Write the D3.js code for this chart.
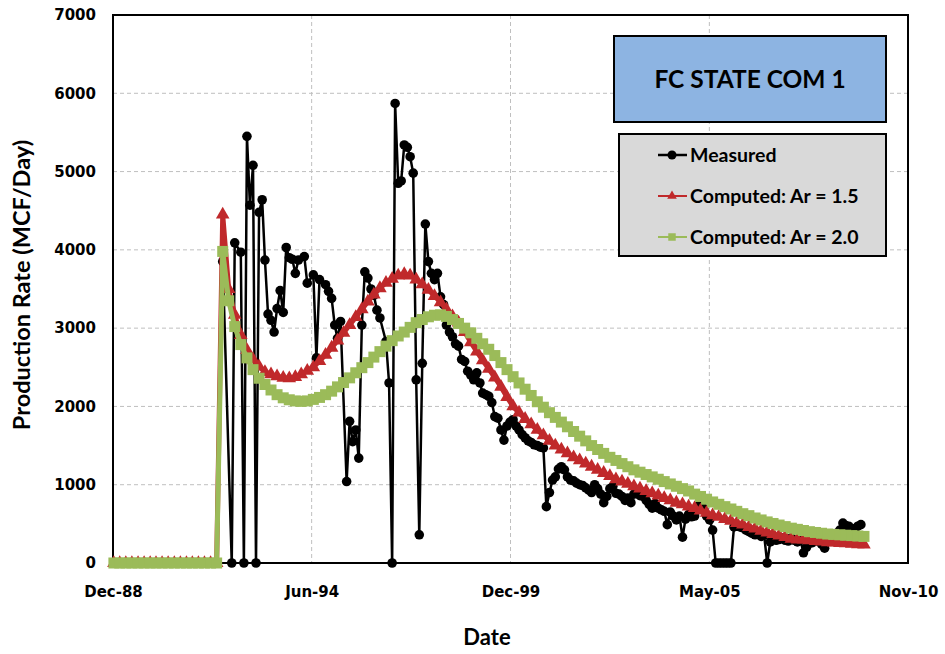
<!DOCTYPE html>
<html>
<head>
<meta charset="utf-8">
<script src="https://cdn.jsdelivr.net/npm/d3@7"></script>
<style>
  body { margin: 0; background: #fff; }
  svg { display: block; }
</style>
</head>
<body>
<script>
// x axis: Excel date axis, 2000-day major unit
var tickDates = ['1988-12-23', '1994-06-14', '1999-12-06', '2005-05-29', '2010-11-18'];
var tickLabels = ['Dec-88', 'Jun-94', 'Dec-99', 'May-05', 'Nov-10'];
var rateTicks = [0, 1000, 2000, 3000, 4000, 5000, 6000, 7000];

var seriesNames = ['Measured', 'Computed: Ar = 1.5', 'Computed: Ar = 2.0'];
var chartTitle = 'FC STATE COM 1';

// measured rate, one value per month from Jan-92 (null = no point)
var measuredStart = '1992-01-01';
var measuredRate = [
  3850, null, null, 0, 4090, null, 3970, 0, 5450, 4570, 5080, 0,
  4480, 4640, 3870, 3180, 3100, 2950, 3250, 3480, 3200, 4030, 3900, 3880,
  3700, 3870, null, 3915, 3575, null, 3680, 2620, 3620, null, 3555, 3470,
  3380, 3040, 2870, 3085, null, 1040, 1810, 1550, 1700, 1340, 3040, 3720,
  3640, 3500, 3420, 3230, 3130, null, 2830, 2300, 0, 5870, 4850, 4880,
  5340, 5310, 5190, 4980, 2340, 360, 2550, 4330, 3850, 3700, 3620, 3700,
  3400, 3300, 3040, 2950, 2890, 2800, 2770, 2600, 2575, 2450, 2400, 2340,
  2430, 2300, 2170, 2150, 2130, 2050, 1870, 1850, 1700, 1570, 1750, 1800,
  1830, 1750, 1700, 1640, 1600, 1560, 1540, 1510, 1500, 1480, 1470, 720,
  900, 1060, 1100, 1200, 1230, 1190, 1100, 1060, 1050, 1020, 1000, 990,
  960, 930, 900, 1000, 950, 880, 770, 850, 950, 980, 890, 880,
  850, 800, 830, 770, 880, 900, 860, 850, 800, 750, 700, 760,
  700, 680, 660, 490, 650, 600, 550, 600, 330, 560, 620, 590,
  600, 720, 760, 700, 600, 550, 420, 0, 0, 0, 0, 0,
  0, 460, 480, 460, 450, 420, 400, 380, 360, 380, 340, 360,
  0, 270, 330, 290, 300, 320, 290, 280, 320, 290, 270, 300,
  130, 200, 250, 260, 280, 300, 240, 190, 330, 350, 360, 380,
  420, 510, 480, 470, 440, 430, 470, 490
];

// computed rates, every 2 months, first value 36 months before Jan-92
var computedStartOffset = -36;
var computedStep = 2;
var computedAr15 = [
  0, 0, 0, 0, 0, 0, 0, 0, 0, 0, 0, 0, 0, 0, 0, 0, 0, 0,
  4450, 3500, 3170, 2910, 2720, 2600, 2510, 2440, 2410, 2385, 2365, 2360,
  2375, 2410, 2455, 2500, 2580, 2660, 2750, 2840, 2940, 3040, 3140, 3240,
  3340, 3430, 3510, 3580, 3630, 3670, 3690, 3670, 3620, 3560, 3490, 3410,
  3330, 3240, 3150, 3070, 2950, 2820, 2700, 2590, 2480, 2370, 2250, 2120,
  2000, 1920, 1840, 1770, 1700, 1630, 1560, 1500, 1450, 1400, 1350, 1310,
  1270, 1230, 1190, 1150, 1110, 1070, 1040, 1010, 980, 950, 920, 890,
  860, 830, 800, 770, 750, 720, 700, 670, 640, 610, 590, 560,
  540, 510, 490, 460, 440, 410, 390, 370, 350, 330, 310, 300,
  300, 290, 280, 275, 265, 260, 255, 250, 245, 240, 235
];
var computedAr20 = [
  0, 0, 0, 0, 0, 0, 0, 0, 0, 0, 0, 0, 0, 0, 0, 0, 0, 0,
  3980, 3350, 3020, 2790, 2620, 2470, 2360, 2280, 2210, 2150, 2110, 2085,
  2070, 2065, 2070, 2090, 2115, 2150, 2195, 2250, 2305, 2365, 2430, 2495,
  2560, 2630, 2700, 2770, 2840, 2900, 2950, 3010, 3070, 3110, 3145, 3165,
  3170, 3150, 3110, 3060, 3000, 2940, 2870, 2800, 2730, 2650, 2560, 2470,
  2380, 2300, 2220, 2140, 2060, 1990, 1920, 1860, 1800, 1740, 1680, 1620,
  1560, 1500, 1450, 1400, 1350, 1310, 1270, 1230, 1190, 1160, 1130, 1100,
  1070, 1040, 1010, 980, 950, 920, 880, 850, 815, 780, 750, 720,
  690, 660, 630, 605, 575, 550, 525, 505, 485, 465, 445, 430,
  415, 400, 390, 380, 370, 365, 360, 355, 350, 345, 340
];

(function(window){
    'use strict'

    var W = 945, H = 654;
    var plot = {left: 113, right: 908, top: 15, bottom: 563};
    var colors = {measured: '#000000', ar15: '#C0292B', ar20: '#9BBB59', grid: '#BFBFBF'};
    var numFont = 'DejaVu Sans, Verdana, sans-serif';
    var textFont = 'Lato, Calibri, sans-serif';

    var parseDay = d3.timeParse('%Y-%m-%d');
    var month0 = parseDay(measuredStart);

    var svg = d3.select('body').append('svg')
        .attr('width', W)
        .attr('height', H);

    var x = d3.scaleTime()
        .domain([parseDay(tickDates[0]), parseDay(tickDates[tickDates.length - 1])])
        .range([plot.left, plot.right]);
    var y = d3.scaleLinear()
        .domain([rateTicks[0], rateTicks[rateTicks.length - 1]])
        .range([plot.bottom, plot.top]);

    function monthDate(m) {
        return d3.timeMonth.offset(month0, m);
    }

    function toPoints(values, start, step) {
        var pts = [];
        values.forEach(function(v, i) {
            if (v !== null) pts.push({date: monthDate(start + i * step), value: v});
        });
        return pts;
    }

    var measured = toPoints(measuredRate, 0, 1);
    var ar15 = toPoints(computedAr15, computedStartOffset, computedStep);
    var ar20 = toPoints(computedAr20, computedStartOffset, computedStep);

    // gridlines
    var xTicks = tickDates.map(parseDay);
    var grid = svg.append('g').attr('class', 'grid');
    grid.selectAll('line.h')
        .data(rateTicks.slice(1, -1))
        .enter().append('line')
        .attr('class', 'h')
        .attr('x1', plot.left).attr('x2', plot.right)
        .attr('y1', function(d) { return y(d); })
        .attr('y2', function(d) { return y(d); });
    grid.selectAll('line.v')
        .data(xTicks.slice(1, -1))
        .enter().append('line')
        .attr('class', 'v')
        .attr('y1', plot.top).attr('y2', plot.bottom)
        .attr('x1', function(d) { return x(d); })
        .attr('x2', function(d) { return x(d); });
    grid.selectAll('line')
        .attr('stroke', colors.grid)
        .attr('stroke-dasharray', '4,3');

    // plot frame
    svg.append('rect')
        .attr('x', plot.left).attr('y', plot.top)
        .attr('width', plot.right - plot.left)
        .attr('height', plot.bottom - plot.top)
        .attr('fill', 'none')
        .attr('stroke', '#000')
        .attr('stroke-width', 2);

    // axes
    var yAxis = d3.axisLeft(y).tickValues(rateTicks).tickSize(0).tickPadding(17)
        .tickFormat(d3.format('d'));
    var xAxis = d3.axisBottom(x).tickValues(xTicks).tickSize(0).tickPadding(23)
        .tickFormat(function(d, i) { return tickLabels[i]; });

    function styleAxis(g) {
        g.select('.domain').remove();
        g.selectAll('text')
            .attr('font-family', numFont)
            .attr('font-weight', 'bold')
            .attr('font-size', 15)
            .attr('fill', '#000');
    }

    svg.append('g').attr('transform', 'translate(' + plot.left + ',0)').call(yAxis).call(styleAxis);
    svg.append('g').attr('transform', 'translate(0,' + plot.bottom + ')').call(xAxis).call(styleAxis);

    // series
    var line = d3.line()
        .x(function(d) { return x(d.date); })
        .y(function(d) { return y(d.value); });

    function drawSeries(data, color, width, marker) {
        var g = svg.append('g');
        g.append('path')
            .datum(data)
            .attr('d', line)
            .attr('fill', 'none')
            .attr('stroke', color)
            .attr('stroke-width', width)
            .attr('stroke-linejoin', 'round');
        g.selectAll('path.mk')
            .data(data)
            .enter().append('path')
            .attr('class', 'mk')
            .attr('transform', function(d) { return 'translate(' + x(d.date) + ',' + y(d.value) + ')'; })
            .attr('d', marker)
            .attr('fill', color);
    }

    var circle = d3.symbol().type(d3.symbolCircle).size(72)();
    var triangle = d3.symbol().type(d3.symbolTriangle).size(80)();
    var square = d3.symbol().type(d3.symbolSquare).size(121)();
    var legendCircle = d3.symbol().type(d3.symbolCircle).size(64)();
    var legendTriangle = d3.symbol().type(d3.symbolTriangle).size(40)();
    var legendSquare = d3.symbol().type(d3.symbolSquare).size(56)();

    drawSeries(measured, colors.measured, 2.5, circle);
    drawSeries(ar15, colors.ar15, 5, triangle);
    drawSeries(ar20, colors.ar20, 5, square);

    // title box
    svg.append('rect')
        .attr('x', 614).attr('y', 36).attr('width', 272).attr('height', 86)
        .attr('fill', '#8DB4E2').attr('stroke', '#000').attr('stroke-width', 2);
    svg.append('text')
        .attr('x', 750).attr('y', 88)
        .attr('text-anchor', 'middle')
        .attr('font-family', textFont).attr('font-weight', 'bold').attr('font-size', 24.5)
        .text(chartTitle);

    // legend
    var legend = svg.append('g');
    legend.append('rect')
        .attr('x', 619).attr('y', 134).attr('width', 267).attr('height', 122)
        .attr('fill', '#D9D9D9').attr('stroke', '#000').attr('stroke-width', 2);
    var legendItems = [
        {name: seriesNames[0], color: colors.measured, marker: legendCircle, lw: 2.5},
        {name: seriesNames[1], color: colors.ar15, marker: legendTriangle, lw: 2},
        {name: seriesNames[2], color: colors.ar20, marker: legendSquare, lw: 2}
    ];
    var rows = legend.selectAll('g.item')
        .data(legendItems)
        .enter().append('g')
        .attr('transform', function(d, i) { return 'translate(0,' + (155 + i * 41) + ')'; });
    rows.append('line')
        .attr('x1', 658).attr('x2', 687)
        .attr('stroke', function(d) { return d.color; })
        .attr('stroke-width', function(d) { return d.lw; });
    rows.append('path')
        .attr('transform', 'translate(672,0)')
        .attr('d', function(d) { return d.marker; })
        .attr('fill', function(d) { return d.color; });
    rows.append('text')
        .attr('x', 690).attr('y', 6.5)
        .attr('font-family', textFont).attr('font-weight', 'bold').attr('font-size', 19.5)
        .text(function(d) { return d.name; });

    // axis titles
    svg.append('text')
        .attr('transform', 'translate(30,285) rotate(-90)')
        .attr('text-anchor', 'middle')
        .attr('font-family', textFont).attr('font-weight', 'bold').attr('font-size', 23.5)
        .text('Production Rate (MCF/Day)');
    svg.append('text')
        .attr('x', 487).attr('y', 645)
        .attr('text-anchor', 'middle')
        .attr('font-family', textFont).attr('font-weight', 'bold').attr('font-size', 22)
        .text('Date');

})(window);
</script>
</body>
</html>
